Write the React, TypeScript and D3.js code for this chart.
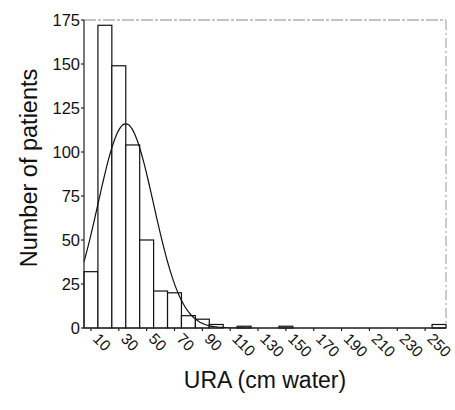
import React from "react";
import * as d3 from "d3";

const binCenters = [10, 20, 30, 40, 50, 60, 70, 80, 90, 100, 110, 120, 130, 140, 150, 160, 170, 180, 190, 200, 210, 220, 230, 240, 250, 260];
const counts = [32, 172, 149, 104, 50, 21, 20, 7, 5, 2, 0, 1, 0, 0, 1, 0, 0, 0, 0, 0, 0, 0, 0, 0, 0, 2];
const xTicks = [10, 30, 50, 70, 90, 110, 130, 150, 170, 190, 210, 230, 250];
const yTicks = [0, 25, 50, 75, 100, 125, 150, 175];
const fitMean = 35;
const fitSd = 20;
const fitPeak = 116;
const binWidth = 10;

const W = 455;
const H = 410;
const left = 84;
const right = 446;
const top = 20;
const bottom = 328;
const font = "'Liberation Sans', Arial, Helvetica, sans-serif";

export default function App() {
  const x = d3.scaleLinear().domain([5, 265]).range([left, right]);
  const y = d3.scaleLinear().domain([0, 175]).range([bottom, top]);

  const curvePts: [number, number][] = d3.range(5, 265.01, 1).map((v) => [
    v,
    fitPeak * Math.exp(-((v - fitMean) ** 2) / (2 * fitSd * fitSd)),
  ]);
  const line = d3
    .line<[number, number]>()
    .x((d) => x(d[0]))
    .y((d) => y(d[1]))
    .curve(d3.curveMonotoneX);

  return (
    <svg
      width={W}
      height={H}
      style={{ position: "absolute", left: 0, top: 0, background: "#fff" }}
    >
      {/* frame */}
      <line x1={left} x2={right} y1={top} y2={top} stroke="#888" strokeWidth={1} strokeDasharray="12 2 3 2" />
      <line x1={right} x2={right} y1={top} y2={bottom} stroke="#999" strokeWidth={1} strokeDasharray="10 3 2 3" />

      {/* bars */}
      {binCenters.map((c, i) =>
        counts[i] > 0 ? (
          <rect
            key={c}
            x={x(c - binWidth / 2)}
            y={y(counts[i])}
            width={x(c + binWidth / 2) - x(c - binWidth / 2)}
            height={y(0) - y(counts[i])}
            fill="#fff"
            stroke="#111"
            strokeWidth={1.2}
          />
        ) : null
      )}

      {/* normal fit curve */}
      <path d={line(curvePts) || ""} fill="none" stroke="#111" strokeWidth={1.2} />

      {/* y axis */}
      <line x1={left} x2={left} y1={top} y2={bottom} stroke="#222" strokeWidth={1.2} />
      {yTicks.map((t) => (
        <g key={t}>
          <line x1={left - 3} x2={left} y1={y(t)} y2={y(t)} stroke="#222" strokeWidth={1.2} />
          <text
            x={left - 4}
            y={y(t)}
            dy="0.35em"
            textAnchor="end"
            fontFamily={font}
            fontSize={16.5}
            fill="#111"
          >
            {t}
          </text>
        </g>
      ))}

      {/* x axis */}
      <line x1={left} x2={right} y1={bottom} y2={bottom} stroke="#222" strokeWidth={1.2} />
      {xTicks.map((t) => (
        <g key={t}>
          <line x1={x(t)} x2={x(t)} y1={bottom} y2={bottom + 3} stroke="#222" strokeWidth={1.2} />
          <text
            transform={`translate(${x(t) + 5},${bottom + 8}) rotate(45)`}
            textAnchor="start"
            dy="0.35em"
            fontFamily={font}
            fontSize={15.5}
            fill="#111"
          >
            {t}
          </text>
        </g>
      ))}

      {/* axis titles */}
      <text
        x={(left + right) / 2}
        y={388}
        textAnchor="middle"
        fontFamily={font}
        fontSize={23}
        fill="#111"
      >
        URA (cm water)
      </text>
      <text
        transform={`translate(37,168) rotate(-90)`}
        textAnchor="middle"
        fontFamily={font}
        fontSize={23.5}
        fill="#111"
      >
        Number of patients
      </text>
    </svg>
  );
}
